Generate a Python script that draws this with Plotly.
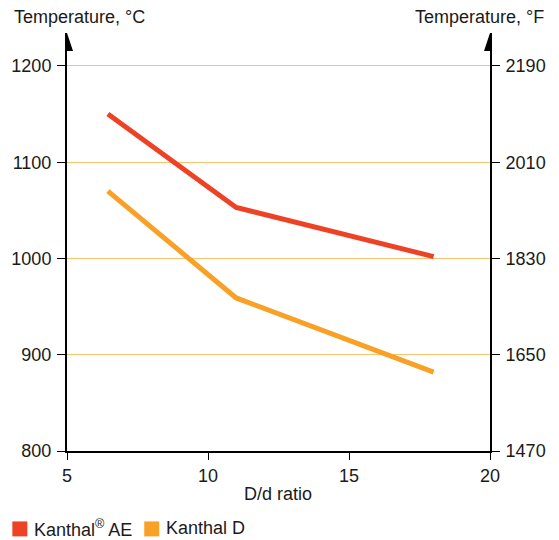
import plotly.graph_objects as go

# Data
dd_ratio = [6.45, 11, 18]
kanthal_ae = [1150, 1053, 1002]
kanthal_d = [1070, 959, 882]
y_ticks_c = [800, 900, 1000, 1100, 1200]
y_ticks_f = [1470, 1650, 1830, 2010, 2190]
x_ticks = [5, 10, 15, 20]

RED = "#ee4224"
ORANGE = "#f8a126"
GRID = "#fbc270"
FONT = "Liberation Sans, Arial, sans-serif"
TXT = "#1a1a1a"
FS = 18

# page has an 8px body margin; work in page pixels and subtract it
OFF = 8
W, H = 559 - OFF, 540 - OFF
L = 66.7 - OFF
R = W - (490 - OFF)
T = 33 - OFF
B = H - (451.5 - OFF)
plot_h = H - T - B
pw = W - L - R
px_per_c = (451.5 - 66.0) / 400.0
y_top = 800 + plot_h / px_per_c
f_top = 1470 + (y_top - 800) * 1.8


def px_x(p):
    return (p - OFF - L) / pw


def px_y(p):
    return (H - B - (p - OFF)) / plot_h


fig = go.Figure()
fig.add_trace(go.Scatter(x=dd_ratio, y=kanthal_ae, mode="lines",
                         line=dict(color=RED, width=5), name="Kanthal® AE",
                         showlegend=False))
fig.add_trace(go.Scatter(x=dd_ratio, y=kanthal_d, mode="lines",
                         line=dict(color=ORANGE, width=5), name="Kanthal D",
                         showlegend=False))
fig.add_trace(go.Scatter(x=[None], y=[None], yaxis="y2", showlegend=False))

fig.update_layout(
    width=W, height=H,
    margin=dict(l=L, r=R, t=T, b=B, autoexpand=False),
    paper_bgcolor="white", plot_bgcolor="white",
    font=dict(family=FONT, size=FS, color=TXT),
    xaxis=dict(range=[5, 20], tickvals=x_ticks, showgrid=False, zeroline=False,
               showline=True, linecolor="black", linewidth=2,
               ticks="outside", ticklen=7, tickwidth=1, tickcolor="black",
               automargin=False),
    yaxis=dict(range=[800, y_top], tickvals=y_ticks_c, showgrid=True,
               gridcolor=GRID, gridwidth=1, zeroline=False,
               showline=True, linecolor="black", linewidth=2,
               ticks="outside", ticklen=8, tickwidth=1, tickcolor="black",
               ticklabelstandoff=2, automargin=False),
    yaxis2=dict(range=[1470, f_top], tickvals=y_ticks_f, overlaying="y",
                side="right", anchor="x", showgrid=False, zeroline=False,
                showline=True, linecolor="black", linewidth=2,
                ticks="outside", ticklen=8, tickwidth=1, tickcolor="black",
                ticklabelstandoff=2, automargin=False),
)

# arrowheads on vertical axes
for xv in [5, 20]:
    fig.add_shape(type="path", xref="x", yref="paper",
                  xsizemode="pixel", ysizemode="pixel",
                  xanchor=xv, yanchor=1,
                  path="M -6,-18 L 0,0 L 6,-18 Z",
                  fillcolor="black", line=dict(color="black", width=0),
                  layer="above")

# axis titles
fig.add_annotation(text="Temperature, °C", xref="paper", yref="paper",
                   x=px_x(12), y=px_y(17), xanchor="left", yanchor="middle",
                   showarrow=False, font=dict(size=FS))
fig.add_annotation(text="Temperature, °F", xref="paper", yref="paper",
                   x=px_x(546), y=px_y(17), xanchor="right", yanchor="middle",
                   showarrow=False, font=dict(size=FS))
fig.add_annotation(text="D/d ratio", xref="paper", yref="paper",
                   x=px_x(278), y=px_y(495), xanchor="center", yanchor="middle",
                   showarrow=False, font=dict(size=FS))

# legend
for x0, col, label, tx in [(12, RED, "Kanthal<sup style='font-size:11px'>®</sup> AE", 32),
                           (144, ORANGE, "Kanthal D", 164)]:
    fig.add_shape(type="rect", xref="paper", yref="paper",
                  x0=px_x(x0), x1=px_x(x0 + 15), y0=px_y(537), y1=px_y(522),
                  fillcolor=col, line=dict(width=0))
    fig.add_annotation(text=label, xref="paper", yref="paper",
                       x=px_x(tx), y=px_y(529), xanchor="left", yanchor="middle",
                       showarrow=False, font=dict(size=FS))

fig.write_html("out.html")
